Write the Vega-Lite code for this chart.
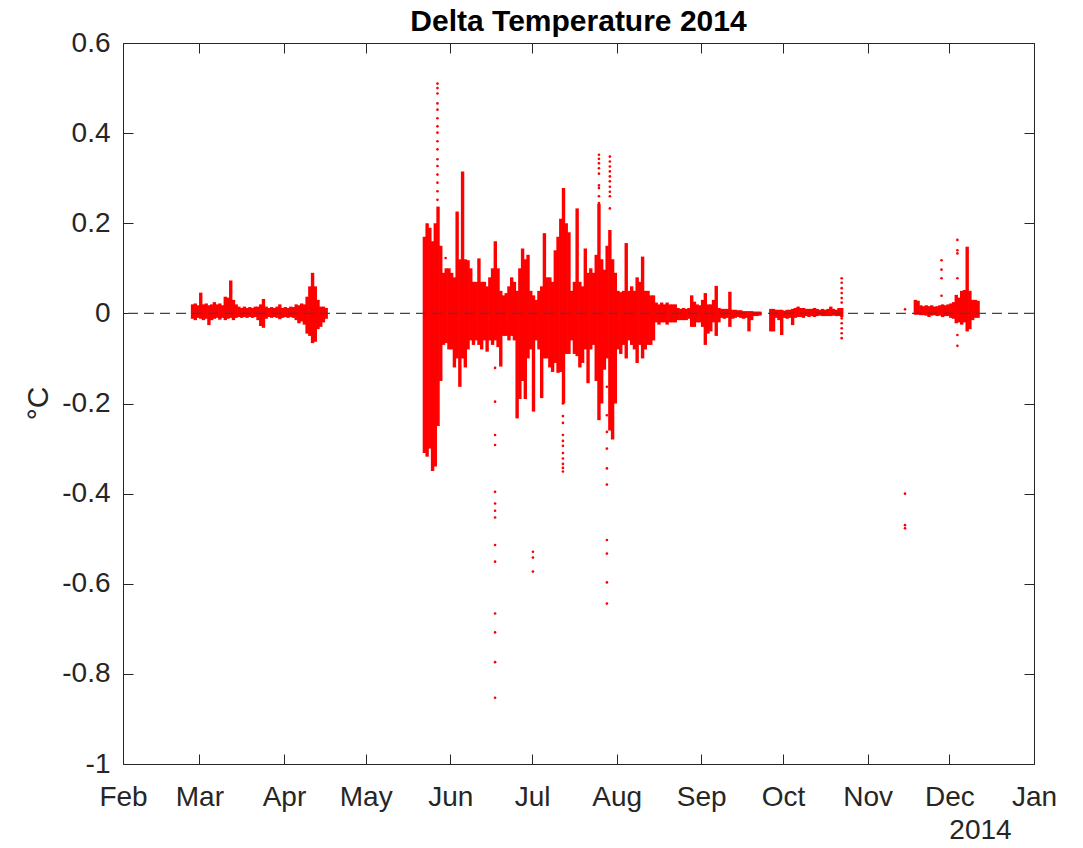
{
  "$schema": "https://vega.github.io/schema/vega-lite/v6.json",
  "width": 911,
  "height": 721,
  "autosize": {"type": "none"},
  "padding": {"left": 123, "top": 43, "right": 49, "bottom": 84},
  "background": "white",
  "title": {"text": "Delta Temperature 2014", "fontSize": 30, "fontWeight": "bold", "font": "Liberation Sans", "color": "#000000", "anchor": "middle", "offset": -8},
  "datasets": {
    "env": [
      {"t": "2014-02-26T12:00", "lo": -0.012, "hi": 0.02},
      {"t": "2014-02-27T12:00", "lo": -0.015, "hi": 0.022},
      {"t": "2014-02-28T12:00", "lo": -0.01, "hi": 0.018},
      {"t": "2014-03-01T12:00", "lo": -0.012, "hi": 0.046},
      {"t": "2014-03-02T12:00", "lo": -0.015, "hi": 0.02},
      {"t": "2014-03-03T12:00", "lo": -0.012, "hi": 0.022},
      {"t": "2014-03-04T12:00", "lo": -0.026, "hi": 0.018},
      {"t": "2014-03-05T12:00", "lo": -0.015, "hi": 0.02},
      {"t": "2014-03-06T12:00", "lo": -0.012, "hi": 0.025},
      {"t": "2014-03-07T12:00", "lo": -0.01, "hi": 0.02},
      {"t": "2014-03-08T12:00", "lo": -0.014, "hi": 0.022},
      {"t": "2014-03-09T12:00", "lo": -0.01, "hi": 0.018},
      {"t": "2014-03-10T12:00", "lo": -0.015, "hi": 0.037},
      {"t": "2014-03-11T12:00", "lo": -0.012, "hi": 0.035},
      {"t": "2014-03-12T12:00", "lo": -0.01, "hi": 0.073},
      {"t": "2014-03-13T12:00", "lo": -0.015, "hi": 0.03},
      {"t": "2014-03-14T12:00", "lo": -0.01, "hi": 0.02},
      {"t": "2014-03-15T12:00", "lo": -0.008, "hi": 0.015},
      {"t": "2014-03-16T12:00", "lo": -0.01, "hi": 0.012},
      {"t": "2014-03-17T12:00", "lo": -0.008, "hi": 0.015},
      {"t": "2014-03-18T12:00", "lo": -0.01, "hi": 0.012},
      {"t": "2014-03-19T12:00", "lo": -0.008, "hi": 0.014},
      {"t": "2014-03-20T12:00", "lo": -0.01, "hi": 0.012},
      {"t": "2014-03-21T12:00", "lo": -0.008, "hi": 0.015},
      {"t": "2014-03-22T12:00", "lo": -0.015, "hi": 0.015},
      {"t": "2014-03-23T12:00", "lo": -0.028, "hi": 0.02},
      {"t": "2014-03-24T12:00", "lo": -0.032, "hi": 0.032},
      {"t": "2014-03-25T12:00", "lo": -0.012, "hi": 0.015},
      {"t": "2014-03-26T12:00", "lo": -0.008, "hi": 0.012},
      {"t": "2014-03-27T12:00", "lo": -0.01, "hi": 0.014},
      {"t": "2014-03-28T12:00", "lo": -0.008, "hi": 0.012},
      {"t": "2014-03-29T12:00", "lo": -0.01, "hi": 0.015},
      {"t": "2014-03-30T12:00", "lo": -0.013, "hi": 0.02},
      {"t": "2014-03-31T12:00", "lo": -0.01, "hi": 0.012},
      {"t": "2014-04-01T12:00", "lo": -0.008, "hi": 0.014},
      {"t": "2014-04-02T12:00", "lo": -0.01, "hi": 0.012},
      {"t": "2014-04-03T12:00", "lo": -0.008, "hi": 0.015},
      {"t": "2014-04-04T12:00", "lo": -0.01, "hi": 0.014},
      {"t": "2014-04-05T12:00", "lo": -0.015, "hi": 0.02},
      {"t": "2014-04-06T12:00", "lo": -0.022, "hi": 0.018},
      {"t": "2014-04-07T12:00", "lo": -0.018, "hi": 0.022},
      {"t": "2014-04-08T12:00", "lo": -0.025, "hi": 0.02},
      {"t": "2014-04-09T12:00", "lo": -0.045, "hi": 0.037},
      {"t": "2014-04-10T12:00", "lo": -0.05, "hi": 0.06},
      {"t": "2014-04-11T12:00", "lo": -0.066, "hi": 0.09},
      {"t": "2014-04-12T12:00", "lo": -0.063, "hi": 0.06},
      {"t": "2014-04-13T12:00", "lo": -0.035, "hi": 0.03},
      {"t": "2014-04-14T12:00", "lo": -0.03, "hi": 0.015},
      {"t": "2014-04-15T12:00", "lo": -0.02, "hi": 0.015},
      {"t": "2014-04-16T12:00", "lo": -0.012, "hi": 0.012},
      {"t": "2014-05-22T12:00", "lo": -0.31, "hi": 0.17},
      {"t": "2014-05-23T12:00", "lo": -0.318, "hi": 0.2},
      {"t": "2014-05-24T12:00", "lo": -0.3, "hi": 0.19},
      {"t": "2014-05-25T12:00", "lo": -0.35, "hi": 0.16},
      {"t": "2014-05-26T12:00", "lo": -0.34, "hi": 0.2},
      {"t": "2014-05-27T12:00", "lo": -0.25, "hi": 0.237},
      {"t": "2014-05-28T12:00", "lo": -0.15, "hi": 0.15},
      {"t": "2014-05-29T12:00", "lo": -0.07, "hi": 0.09},
      {"t": "2014-05-30T12:00", "lo": -0.066, "hi": 0.1},
      {"t": "2014-05-31T12:00", "lo": -0.08, "hi": 0.1},
      {"t": "2014-06-01T12:00", "lo": -0.08, "hi": 0.09},
      {"t": "2014-06-02T12:00", "lo": -0.12, "hi": 0.08},
      {"t": "2014-06-03T12:00", "lo": -0.1, "hi": 0.226},
      {"t": "2014-06-04T12:00", "lo": -0.163, "hi": 0.12},
      {"t": "2014-06-05T12:00", "lo": -0.1, "hi": 0.315},
      {"t": "2014-06-06T12:00", "lo": -0.12, "hi": 0.12},
      {"t": "2014-06-07T12:00", "lo": -0.08, "hi": 0.118},
      {"t": "2014-06-08T12:00", "lo": -0.06, "hi": 0.1},
      {"t": "2014-06-09T12:00", "lo": -0.07, "hi": 0.07},
      {"t": "2014-06-10T12:00", "lo": -0.06, "hi": 0.07},
      {"t": "2014-06-11T12:00", "lo": -0.07, "hi": 0.122},
      {"t": "2014-06-12T12:00", "lo": -0.08, "hi": 0.07},
      {"t": "2014-06-13T12:00", "lo": -0.06, "hi": 0.07},
      {"t": "2014-06-14T12:00", "lo": -0.085, "hi": 0.06},
      {"t": "2014-06-15T12:00", "lo": -0.06, "hi": 0.08},
      {"t": "2014-06-16T12:00", "lo": -0.07, "hi": 0.1},
      {"t": "2014-06-17T12:00", "lo": -0.06, "hi": 0.16},
      {"t": "2014-06-18T12:00", "lo": -0.075, "hi": 0.1},
      {"t": "2014-06-19T12:00", "lo": -0.118, "hi": 0.05},
      {"t": "2014-06-20T12:00", "lo": -0.05, "hi": 0.04},
      {"t": "2014-06-21T12:00", "lo": -0.05, "hi": 0.045},
      {"t": "2014-06-22T12:00", "lo": -0.06, "hi": 0.06},
      {"t": "2014-06-23T12:00", "lo": -0.05, "hi": 0.08},
      {"t": "2014-06-24T12:00", "lo": -0.06, "hi": 0.07},
      {"t": "2014-06-25T12:00", "lo": -0.233, "hi": 0.05},
      {"t": "2014-06-26T12:00", "lo": -0.19, "hi": 0.1},
      {"t": "2014-06-27T12:00", "lo": -0.15, "hi": 0.144},
      {"t": "2014-06-28T12:00", "lo": -0.19, "hi": 0.12},
      {"t": "2014-06-29T12:00", "lo": -0.1, "hi": 0.13},
      {"t": "2014-06-30T12:00", "lo": -0.08, "hi": 0.05},
      {"t": "2014-07-01T12:00", "lo": -0.218, "hi": 0.04},
      {"t": "2014-07-02T12:00", "lo": -0.06, "hi": 0.03},
      {"t": "2014-07-03T12:00", "lo": -0.08, "hi": 0.05},
      {"t": "2014-07-04T12:00", "lo": -0.188, "hi": 0.06},
      {"t": "2014-07-05T12:00", "lo": -0.1, "hi": 0.178},
      {"t": "2014-07-06T12:00", "lo": -0.1, "hi": 0.08},
      {"t": "2014-07-07T12:00", "lo": -0.12, "hi": 0.08},
      {"t": "2014-07-08T12:00", "lo": -0.13, "hi": 0.07},
      {"t": "2014-07-09T12:00", "lo": -0.11, "hi": 0.14},
      {"t": "2014-07-10T12:00", "lo": -0.132, "hi": 0.17},
      {"t": "2014-07-11T12:00", "lo": -0.13, "hi": 0.21},
      {"t": "2014-07-12T12:00", "lo": -0.2, "hi": 0.278},
      {"t": "2014-07-13T12:00", "lo": -0.09, "hi": 0.2},
      {"t": "2014-07-14T12:00", "lo": -0.09, "hi": 0.18},
      {"t": "2014-07-15T12:00", "lo": -0.06, "hi": 0.05},
      {"t": "2014-07-16T12:00", "lo": -0.09, "hi": 0.07},
      {"t": "2014-07-17T12:00", "lo": -0.095, "hi": 0.233},
      {"t": "2014-07-18T12:00", "lo": -0.12, "hi": 0.07},
      {"t": "2014-07-19T12:00", "lo": -0.11, "hi": 0.06},
      {"t": "2014-07-20T12:00", "lo": -0.08, "hi": 0.144},
      {"t": "2014-07-21T12:00", "lo": -0.155, "hi": 0.09},
      {"t": "2014-07-22T12:00", "lo": -0.08, "hi": 0.1},
      {"t": "2014-07-23T12:00", "lo": -0.07, "hi": 0.09},
      {"t": "2014-07-24T12:00", "lo": -0.15, "hi": 0.13},
      {"t": "2014-07-25T12:00", "lo": -0.237, "hi": 0.243},
      {"t": "2014-07-26T12:00", "lo": -0.2, "hi": 0.12},
      {"t": "2014-07-27T12:00", "lo": -0.125, "hi": 0.097},
      {"t": "2014-07-28T12:00", "lo": -0.1, "hi": 0.15},
      {"t": "2014-07-29T12:00", "lo": -0.26, "hi": 0.185},
      {"t": "2014-07-30T12:00", "lo": -0.28, "hi": 0.12},
      {"t": "2014-07-31T12:00", "lo": -0.2, "hi": 0.09},
      {"t": "2014-08-01T12:00", "lo": -0.08, "hi": 0.05},
      {"t": "2014-08-02T12:00", "lo": -0.09, "hi": 0.047},
      {"t": "2014-08-03T12:00", "lo": -0.07, "hi": 0.05},
      {"t": "2014-08-04T12:00", "lo": -0.1, "hi": 0.156},
      {"t": "2014-08-05T12:00", "lo": -0.06, "hi": 0.05},
      {"t": "2014-08-06T12:00", "lo": -0.07, "hi": 0.06},
      {"t": "2014-08-07T12:00", "lo": -0.08, "hi": 0.05},
      {"t": "2014-08-08T12:00", "lo": -0.11, "hi": 0.08},
      {"t": "2014-08-09T12:00", "lo": -0.07, "hi": 0.07},
      {"t": "2014-08-10T12:00", "lo": -0.1, "hi": 0.126},
      {"t": "2014-08-11T12:00", "lo": -0.08, "hi": 0.05},
      {"t": "2014-08-12T12:00", "lo": -0.07, "hi": 0.05},
      {"t": "2014-08-13T12:00", "lo": -0.07, "hi": 0.04},
      {"t": "2014-08-14T12:00", "lo": -0.06, "hi": 0.04},
      {"t": "2014-08-15T12:00", "lo": -0.02, "hi": 0.024},
      {"t": "2014-08-16T12:00", "lo": -0.025, "hi": 0.02},
      {"t": "2014-08-17T12:00", "lo": -0.02, "hi": 0.024},
      {"t": "2014-08-18T12:00", "lo": -0.02, "hi": 0.02},
      {"t": "2014-08-19T12:00", "lo": -0.025, "hi": 0.024},
      {"t": "2014-08-20T12:00", "lo": -0.02, "hi": 0.02},
      {"t": "2014-08-21T12:00", "lo": -0.02, "hi": 0.02},
      {"t": "2014-08-22T12:00", "lo": -0.02, "hi": 0.02},
      {"t": "2014-08-23T12:00", "lo": -0.015, "hi": 0.012},
      {"t": "2014-08-24T12:00", "lo": -0.015, "hi": 0.01},
      {"t": "2014-08-25T12:00", "lo": -0.015, "hi": 0.012},
      {"t": "2014-08-26T12:00", "lo": -0.015, "hi": 0.01},
      {"t": "2014-08-27T12:00", "lo": -0.012, "hi": 0.012},
      {"t": "2014-08-28T12:00", "lo": -0.03, "hi": 0.04},
      {"t": "2014-08-29T12:00", "lo": -0.03, "hi": 0.026},
      {"t": "2014-08-30T12:00", "lo": -0.02, "hi": 0.02},
      {"t": "2014-08-31T12:00", "lo": -0.02, "hi": 0.018},
      {"t": "2014-09-01T12:00", "lo": -0.03, "hi": 0.03},
      {"t": "2014-09-02T12:00", "lo": -0.07, "hi": 0.045},
      {"t": "2014-09-03T12:00", "lo": -0.045, "hi": 0.02},
      {"t": "2014-09-04T12:00", "lo": -0.04, "hi": 0.02},
      {"t": "2014-09-05T12:00", "lo": -0.02, "hi": 0.03},
      {"t": "2014-09-06T12:00", "lo": -0.05, "hi": 0.061},
      {"t": "2014-09-07T12:00", "lo": -0.02, "hi": 0.012},
      {"t": "2014-09-08T12:00", "lo": -0.01, "hi": 0.01},
      {"t": "2014-09-09T12:00", "lo": -0.012, "hi": 0.01},
      {"t": "2014-09-10T12:00", "lo": -0.01, "hi": 0.01},
      {"t": "2014-09-11T12:00", "lo": -0.03, "hi": 0.048},
      {"t": "2014-09-12T12:00", "lo": -0.012, "hi": 0.008},
      {"t": "2014-09-13T12:00", "lo": -0.01, "hi": 0.008},
      {"t": "2014-09-14T12:00", "lo": -0.008, "hi": 0.007},
      {"t": "2014-09-15T12:00", "lo": -0.01, "hi": 0.007},
      {"t": "2014-09-16T12:00", "lo": -0.012, "hi": 0.005},
      {"t": "2014-09-17T12:00", "lo": -0.01, "hi": 0.005},
      {"t": "2014-09-18T12:00", "lo": -0.04, "hi": 0.005},
      {"t": "2014-09-19T12:00", "lo": -0.015, "hi": 0.005},
      {"t": "2014-09-20T12:00", "lo": -0.006, "hi": 0.004},
      {"t": "2014-09-21T12:00", "lo": -0.006, "hi": 0.004},
      {"t": "2014-09-22T12:00", "lo": -0.005, "hi": 0.004},
      {"t": "2014-09-26T12:00", "lo": -0.04, "hi": 0.01},
      {"t": "2014-09-27T12:00", "lo": -0.04, "hi": 0.01},
      {"t": "2014-09-28T12:00", "lo": -0.01, "hi": 0.008},
      {"t": "2014-09-29T12:00", "lo": -0.015, "hi": 0.008},
      {"t": "2014-09-30T12:00", "lo": -0.048, "hi": 0.008},
      {"t": "2014-10-01T12:00", "lo": -0.01, "hi": 0.006},
      {"t": "2014-10-02T12:00", "lo": -0.012, "hi": 0.008},
      {"t": "2014-10-03T12:00", "lo": -0.01, "hi": 0.008},
      {"t": "2014-10-04T12:00", "lo": -0.026, "hi": 0.01},
      {"t": "2014-10-05T12:00", "lo": -0.01, "hi": 0.012},
      {"t": "2014-10-06T12:00", "lo": -0.008, "hi": 0.015},
      {"t": "2014-10-07T12:00", "lo": -0.008, "hi": 0.012},
      {"t": "2014-10-08T12:00", "lo": -0.01, "hi": 0.012},
      {"t": "2014-10-09T12:00", "lo": -0.006, "hi": 0.01},
      {"t": "2014-10-10T12:00", "lo": -0.008, "hi": 0.01},
      {"t": "2014-10-11T12:00", "lo": -0.006, "hi": 0.01},
      {"t": "2014-10-12T12:00", "lo": -0.008, "hi": 0.012},
      {"t": "2014-10-13T12:00", "lo": -0.006, "hi": 0.01},
      {"t": "2014-10-14T12:00", "lo": -0.005, "hi": 0.008},
      {"t": "2014-10-15T12:00", "lo": -0.006, "hi": 0.01},
      {"t": "2014-10-16T12:00", "lo": -0.006, "hi": 0.008},
      {"t": "2014-10-17T12:00", "lo": -0.006, "hi": 0.01},
      {"t": "2014-10-18T12:00", "lo": -0.006, "hi": 0.015},
      {"t": "2014-10-19T12:00", "lo": -0.005, "hi": 0.01},
      {"t": "2014-10-20T12:00", "lo": -0.006, "hi": 0.008},
      {"t": "2014-10-21T12:00", "lo": -0.006, "hi": 0.012},
      {"t": "2014-10-22T12:00", "lo": -0.008, "hi": 0.012},
      {"t": "2014-11-18T12:00", "lo": -0.003, "hi": 0.03},
      {"t": "2014-11-19T12:00", "lo": -0.003, "hi": 0.028},
      {"t": "2014-11-20T12:00", "lo": -0.004, "hi": 0.018},
      {"t": "2014-11-21T12:00", "lo": -0.004, "hi": 0.016},
      {"t": "2014-11-22T12:00", "lo": -0.005, "hi": 0.018},
      {"t": "2014-11-23T12:00", "lo": -0.008, "hi": 0.016},
      {"t": "2014-11-24T12:00", "lo": -0.005, "hi": 0.018},
      {"t": "2014-11-25T12:00", "lo": -0.004, "hi": 0.015},
      {"t": "2014-11-26T12:00", "lo": -0.006, "hi": 0.016},
      {"t": "2014-11-27T12:00", "lo": -0.005, "hi": 0.018},
      {"t": "2014-11-28T12:00", "lo": -0.008, "hi": 0.02},
      {"t": "2014-11-29T12:00", "lo": -0.006, "hi": 0.018},
      {"t": "2014-11-30T12:00", "lo": -0.006, "hi": 0.02},
      {"t": "2014-12-01T12:00", "lo": -0.01, "hi": 0.022},
      {"t": "2014-12-02T12:00", "lo": -0.012, "hi": 0.025},
      {"t": "2014-12-03T12:00", "lo": -0.022, "hi": 0.041},
      {"t": "2014-12-04T12:00", "lo": -0.02, "hi": 0.035},
      {"t": "2014-12-05T12:00", "lo": -0.025, "hi": 0.05},
      {"t": "2014-12-06T12:00", "lo": -0.02, "hi": 0.052},
      {"t": "2014-12-07T12:00", "lo": -0.04, "hi": 0.148},
      {"t": "2014-12-08T12:00", "lo": -0.035, "hi": 0.05},
      {"t": "2014-12-09T12:00", "lo": -0.015, "hi": 0.03},
      {"t": "2014-12-10T12:00", "lo": -0.01, "hi": 0.03},
      {"t": "2014-12-11T12:00", "lo": -0.01, "hi": 0.028}
    ],
    "pts": [
      {"t": "2014-05-27T07:00", "v": 0.51}, {"t": "2014-05-27T07:00", "v": 0.5}, {"t": "2014-05-27T07:00", "v": 0.488}, {"t": "2014-05-27T07:00", "v": 0.466},
      {"t": "2014-05-27T07:00", "v": 0.452}, {"t": "2014-05-27T07:00", "v": 0.433}, {"t": "2014-05-27T07:00", "v": 0.415}, {"t": "2014-05-27T07:00", "v": 0.401},
      {"t": "2014-05-27T07:00", "v": 0.382}, {"t": "2014-05-27T07:00", "v": 0.364}, {"t": "2014-05-27T07:00", "v": 0.342}, {"t": "2014-05-27T07:00", "v": 0.327},
      {"t": "2014-05-27T07:00", "v": 0.308}, {"t": "2014-05-27T07:00", "v": 0.29}, {"t": "2014-05-27T07:00", "v": 0.271}, {"t": "2014-05-27T07:00", "v": 0.252},
      {"t": "2014-05-30T07:00", "v": 0.123},
      {"t": "2014-06-17T10:00", "v": -0.121}, {"t": "2014-06-17T10:00", "v": -0.196}, {"t": "2014-06-17T10:00", "v": -0.27}, {"t": "2014-06-17T10:00", "v": -0.292},
      {"t": "2014-06-17T10:00", "v": -0.396}, {"t": "2014-06-17T10:00", "v": -0.422}, {"t": "2014-06-17T10:00", "v": -0.438}, {"t": "2014-06-17T10:00", "v": -0.453},
      {"t": "2014-06-17T10:00", "v": -0.514}, {"t": "2014-06-17T10:00", "v": -0.551}, {"t": "2014-06-17T10:00", "v": -0.666}, {"t": "2014-06-17T10:00", "v": -0.708},
      {"t": "2014-06-17T10:00", "v": -0.774}, {"t": "2014-06-17T10:00", "v": -0.853},
      {"t": "2014-07-01T07:00", "v": -0.529}, {"t": "2014-07-01T07:00", "v": -0.542}, {"t": "2014-07-01T07:00", "v": -0.573},
      {"t": "2014-07-12T07:00", "v": -0.2}, {"t": "2014-07-12T07:00", "v": -0.228}, {"t": "2014-07-12T07:00", "v": -0.243}, {"t": "2014-07-12T07:00", "v": -0.27},
      {"t": "2014-07-12T07:00", "v": -0.283}, {"t": "2014-07-12T07:00", "v": -0.294}, {"t": "2014-07-12T07:00", "v": -0.31}, {"t": "2014-07-12T07:00", "v": -0.322},
      {"t": "2014-07-12T07:00", "v": -0.334}, {"t": "2014-07-12T07:00", "v": -0.343}, {"t": "2014-07-12T07:00", "v": -0.351},
      {"t": "2014-07-25T12:00", "v": 0.352}, {"t": "2014-07-25T12:00", "v": 0.343}, {"t": "2014-07-25T12:00", "v": 0.333}, {"t": "2014-07-25T12:00", "v": 0.322},
      {"t": "2014-07-25T12:00", "v": 0.31}, {"t": "2014-07-25T12:00", "v": 0.284}, {"t": "2014-07-25T12:00", "v": 0.278}, {"t": "2014-07-25T12:00", "v": 0.26},
      {"t": "2014-07-25T12:00", "v": 0.245},
      {"t": "2014-07-28T10:00", "v": -0.163}, {"t": "2014-07-28T10:00", "v": -0.226}, {"t": "2014-07-28T10:00", "v": -0.263}, {"t": "2014-07-28T10:00", "v": -0.3},
      {"t": "2014-07-28T10:00", "v": -0.344}, {"t": "2014-07-28T10:00", "v": -0.38}, {"t": "2014-07-28T10:00", "v": -0.503}, {"t": "2014-07-28T10:00", "v": -0.533},
      {"t": "2014-07-28T10:00", "v": -0.597}, {"t": "2014-07-28T10:00", "v": -0.644},
      {"t": "2014-07-29T12:00", "v": 0.348}, {"t": "2014-07-29T12:00", "v": 0.337}, {"t": "2014-07-29T12:00", "v": 0.326}, {"t": "2014-07-29T12:00", "v": 0.315},
      {"t": "2014-07-29T12:00", "v": 0.304}, {"t": "2014-07-29T12:00", "v": 0.293}, {"t": "2014-07-29T12:00", "v": 0.281}, {"t": "2014-07-29T12:00", "v": 0.27},
      {"t": "2014-07-29T12:00", "v": 0.26}, {"t": "2014-07-29T12:00", "v": 0.233},
      {"t": "2014-10-22T12:00", "v": 0.078}, {"t": "2014-10-22T12:00", "v": 0.068}, {"t": "2014-10-22T12:00", "v": 0.056}, {"t": "2014-10-22T12:00", "v": 0.045},
      {"t": "2014-10-22T12:00", "v": 0.034}, {"t": "2014-10-22T12:00", "v": 0.024}, {"t": "2014-10-22T12:00", "v": -0.011}, {"t": "2014-10-22T12:00", "v": -0.022},
      {"t": "2014-10-22T12:00", "v": -0.033}, {"t": "2014-10-22T12:00", "v": -0.044}, {"t": "2014-10-22T12:00", "v": -0.055},
      {"t": "2014-11-14T17:00", "v": 0.009}, {"t": "2014-11-14T17:00", "v": -0.4}, {"t": "2014-11-14T17:00", "v": -0.47}, {"t": "2014-11-14T17:00", "v": -0.477},
      {"t": "2014-11-28T02:00", "v": 0.118}, {"t": "2014-11-28T02:00", "v": 0.097}, {"t": "2014-11-28T02:00", "v": 0.078}, {"t": "2014-11-28T02:00", "v": 0.039},
      {"t": "2014-12-03T22:00", "v": 0.163}, {"t": "2014-12-03T22:00", "v": 0.14}, {"t": "2014-12-03T22:00", "v": 0.133}, {"t": "2014-12-03T22:00", "v": 0.078},
      {"t": "2014-12-03T22:00", "v": -0.048}, {"t": "2014-12-03T22:00", "v": -0.072}
    ]
  },
  "layer": [
    {
      "data": {"name": "env"},
      "mark": {"type": "rule", "color": "#ff0000", "strokeWidth": 3.4},
      "encoding": {
        "x": {
          "field": "t", "type": "temporal",
          "scale": {"domain": [{"year": 2014, "month": 2, "date": 1}, {"year": 2015, "month": 1, "date": 1}], "nice": false},
          "axis": {
            "orient": "bottom",
            "values": [{"year": 2014, "month": 2, "date": 1}, {"year": 2014, "month": 3, "date": 1}, {"year": 2014, "month": 4, "date": 1}, {"year": 2014, "month": 5, "date": 1}, {"year": 2014, "month": 6, "date": 1}, {"year": 2014, "month": 7, "date": 1}, {"year": 2014, "month": 8, "date": 1}, {"year": 2014, "month": 9, "date": 1}, {"year": 2014, "month": 10, "date": 1}, {"year": 2014, "month": 11, "date": 1}, {"year": 2014, "month": 12, "date": 1}, {"year": 2015, "month": 1, "date": 1}],
            "format": "%b",
            "labelFont": "Liberation Sans", "labelFontSize": 28, "labelColor": "#262626",
            "labelPadding": 29, "labelFlush": false, "labelOverlap": false,
            "tickSize": -10, "tickColor": "#262626", "tickWidth": 1,
            "domainColor": "#262626", "domainWidth": 1, "grid": false,
            "title": "2014", "titleFont": "Liberation Sans", "titleFontSize": 28, "titleFontWeight": "normal", "titleColor": "#262626",
            "titleX": 857, "titleY": 66, "titleAlign": "center", "titleBaseline": "middle"
          }
        },
        "y": {
          "field": "lo", "type": "quantitative",
          "scale": {"domain": [-1, 0.6], "nice": false, "zero": false},
          "axis": {
            "orient": "left",
            "values": [-1, -0.8, -0.6, -0.4, -0.2, 0, 0.2, 0.4, 0.6],
            "labelExpr": "datum.value < 0 ? '-' + format(-datum.value, '~g') : format(datum.value, '~g')",
            "labelFont": "Liberation Sans", "labelFontSize": 28, "labelColor": "#262626",
            "labelPadding": 23,
            "tickSize": -10, "tickColor": "#262626", "tickWidth": 1,
            "domainColor": "#262626", "domainWidth": 1, "grid": false,
            "title": "°C", "titleFont": "Liberation Sans", "titleFontSize": 30, "titleFontWeight": "normal", "titleColor": "#262626",
            "titleAngle": 270, "titleX": -85, "titleY": 360, "titleAlign": "center", "titleBaseline": "middle"
          }
        },
        "y2": {"field": "hi"}
      }
    },
    {
      "data": {"name": "pts"},
      "mark": {"type": "circle", "color": "#ff0000", "size": 7, "opacity": 1},
      "encoding": {
        "x": {
          "field": "t", "type": "temporal",
          "scale": {"domain": [{"year": 2014, "month": 2, "date": 1}, {"year": 2015, "month": 1, "date": 1}], "nice": false},
          "axis": {
            "orient": "top",
            "values": [{"year": 2014, "month": 2, "date": 1}, {"year": 2014, "month": 3, "date": 1}, {"year": 2014, "month": 4, "date": 1}, {"year": 2014, "month": 5, "date": 1}, {"year": 2014, "month": 6, "date": 1}, {"year": 2014, "month": 7, "date": 1}, {"year": 2014, "month": 8, "date": 1}, {"year": 2014, "month": 9, "date": 1}, {"year": 2014, "month": 10, "date": 1}, {"year": 2014, "month": 11, "date": 1}, {"year": 2014, "month": 12, "date": 1}, {"year": 2015, "month": 1, "date": 1}],
            "labels": false, "title": null,
            "tickSize": -10, "tickColor": "#262626", "tickWidth": 1,
            "domainColor": "#262626", "domainWidth": 1, "grid": false
          }
        },
        "y": {
          "field": "v", "type": "quantitative",
          "scale": {"domain": [-1, 0.6], "nice": false, "zero": false},
          "axis": {
            "orient": "right",
            "values": [-1, -0.8, -0.6, -0.4, -0.2, 0, 0.2, 0.4, 0.6],
            "labels": false, "title": null,
            "tickSize": -10, "tickColor": "#262626", "tickWidth": 1,
            "domainColor": "#262626", "domainWidth": 1, "grid": false
          }
        }
      }
    },
    {
      "data": {"values": [{}]},
      "mark": {"type": "rule", "color": "#444444", "strokeDash": [10, 6], "strokeWidth": 1.2},
      "encoding": {"y": {"datum": 0, "type": "quantitative", "axis": null}}
    }
  ],
  "resolve": {"axis": {"x": "independent", "y": "independent"}},
  "config": {"view": {"stroke": null}, "font": "Liberation Sans"}
}
